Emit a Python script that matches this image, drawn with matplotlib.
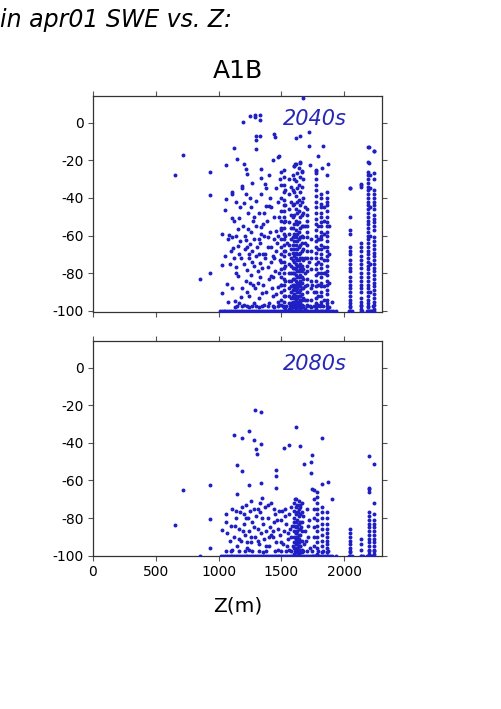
import matplotlib
matplotlib.use("Agg")
import matplotlib.pyplot as plt

plt.rcParams['font.family'] = ['DejaVu Sans']
plt.rcParams['axes.unicode_minus'] = False

# ---------------- data ----------------
title_text = "in apr01 SWE vs. Z:"
scenario = "A1B"
period_labels = ["2040s", "2080s"]
xticks = [0, 500, 1000, 1500, 2000]
yticks = [0, -20, -40, -60, -80, -100]

# 2040s scattered points
p1_sx = [651, 717, 850, 929, 929, 934, 1030, 1030, 1030, 1051, 1056, 1061, 1048, 1075, 1083, 1069,
         1104, 1109, 1109, 1109, 1114, 1125, 1127, 1141, 1141, 1149, 1154, 1154, 1154, 1159, 1180,
         1180, 1188, 1190, 1194, 1199, 1199, 1207, 1215, 1220, 1220, 1225, 1225, 1233, 1233, 1241,
         1247, 1247, 1254, 1268, 1273, 1286, 1291, 1294, 1294, 1299, 1294, 1305, 1318, 1326, 1331,
         1331, 1331, 1339, 1334, 1339, 1339, 1339, 1331, 1347, 1366, 1366, 1379, 1392, 1405, 1419,
         1432, 1445, 1453, 1432, 1458, 1472, 1480,
         1670, 1617, 1649, 1723, 1723, 1829, 1471, 1789, 2194, 2234, 2194, 1604, 1612, 1649, 1665,
         1728, 1776, 1824, 1868, 2046, 2133,
         1100, 1120, 1135, 1160, 1170, 1185, 1200, 1210, 1230, 1240, 1255, 1260, 1270, 1280, 1290,
         1300, 1310, 1320, 1330, 1345, 1350, 1360, 1370, 1380, 1390, 1400, 1410, 1420, 1430, 1440,
         1450, 1460, 1470, 1480, 1490, 1500, 1360, 1385, 1410, 1420, 1440, 1455, 1470, 1490, 1400,
         1375, 1260, 1280, 1250, 1300, 1320, 1170, 1140, 1120, 1090, 1075, 1110, 1130, 1160, 1200,
         1240, 1280, 1320, 1360, 1400, 1440, 1480,
         1215, 1230, 1265, 1285, 1310, 1350, 1395, 1425, 1445, 1465, 1485, 1195, 1245, 1275, 1325,
         1355, 1415, 1435, 1460, 1475, 1495, 1545, 1720, 1745, 1760, 1800, 1850, 1900]
p1_sy = [-28, -17, -83, -80, -38.6, -26.5, -90.6, -75.7, -58.9, -46.6, -40.4, -22.6, -70.7, -61.9, -59.6, -85.7,
         -38.1, -36.7, -50.8, -61, -66.8, -13.4, -94.9, -42.3, -76.9, -19.4, -56.6, -65.4, -81.3, -50.8, -72,
         -92.8, -33.7, -35, 0.2, -42.5, -22.2, -67.2, -38.1, -62.3, -24.5, -27.5, -78.3, -47.8, -56.6, -69.8,
         3.4, -85.3, -64.6, -31.9, -52.2, 4.2, 3, -6.9, -13.9, -9.5, -41.7, -66.3, -61.9, -82.2, 4.2,
         1.6, -7.2, -24.9, -29.3, -38.1, -55.4, -58.9, -74.4, -90.6, -32.4, -69.8, -44.3, -76.9, -44.3, -81.3,
         -70.6, -6.3, -7.6, -19.8, -57.5, -87.4, -17.6,
         13, -8.1, -7.2, -4.9, -12.5, -12.5, -18.3, -18, -13, -15.2, -21.3, -23.1, -22.2, -21.3, -25.7,
         -22.6, -25.7, -24.3, -22.2, -34.6, -32.8,
         -68, -72, -80, -70, -63, -88, -75, -60, -90, -72, -81, -58, -68, -76, -88,
         -71, -79, -93, -64, -77, -86, -60, -72, -90, -66, -83, -58, -74, -92, -62,
         -79, -68, -95, -50, -73, -86, -48, -52, -40, -45, -50, -35, -42, -30, -28,
         -35, -45, -50, -40, -55, -48, -45, -60, -52, -75, -95, -88, -98, -96, -97,
         -98, -96, -98, -97, -96, -98, -97,
         -84, -66, -74, -62, -85, -70, -61, -88, -72, -64, -80, -55, -92, -86, -70,
         -54, -66, -82, -91, -60, -56, -64, -74, -86, -90, -62, -80, -95]

# 2040s vertical columns of grid cells at the same elevation
p1_col_x = [1500, 1517, 1532, 1560, 1575, 1590, 1602, 1614, 1626, 1638, 1650, 1662, 1675, 1688,
            1707, 1735, 1776, 1790, 1816, 1840, 1866, 1880, 2046, 2133, 2192, 2206, 2234]
p1_col_y = [
    [-26, -33, -40, -47, -52, -57, -62, -66, -70, -74, -78, -82, -86, -90, -94, -97],
    [-25, -29, -33, -37, -41, -44, -47, -50, -53, -56, -59, -62, -65, -68, -71, -74, -77, -80, -83, -86, -89, -92, -95, -98],
    [-36, -44, -52, -60, -68, -76, -84, -92, -99],
    [-30, -38, -46, -53, -59, -65, -70, -75, -80, -84, -88, -92, -96, -99],
    [-34, -42, -49, -56, -62, -67, -72, -76, -80, -84, -87, -90, -93, -96, -99],
    [-28, -36, -44, -50, -56, -61, -65, -69, -73, -77, -80, -83, -86, -89, -92, -95, -98],
    [-23, -30, -37, -43, -49, -54, -59, -63, -67, -71, -74, -77, -80, -83, -86, -88, -91, -93, -96, -98],
    [-22, -31, -39, -46, -52, -57, -61, -65, -69, -72, -75, -78, -81, -84, -87, -89, -92, -94, -97, -99],
    [-27, -35, -42, -48, -54, -59, -63, -67, -70, -73, -76, -79, -82, -85, -88, -90, -93, -95, -98],
    [-24, -33, -41, -47, -53, -58, -62, -66, -70, -73, -76, -79, -82, -85, -87, -90, -92, -95, -97, -100],
    [-21, -29, -37, -44, -50, -56, -61, -65, -69, -72, -75, -78, -81, -84, -87, -89, -92, -94, -96, -99],
    [-26, -34, -42, -49, -55, -60, -64, -68, -72, -76, -79, -82, -85, -88, -91, -94, -97, -100],
    [-30, -40, -48, -55, -61, -67, -73, -78, -83, -88, -93, -98],
    [-45, -55, -64, -72, -80, -87, -94, -99],
    [-46, -49, -52, -55, -58, -61, -65, -68, -72, -76, -79, -83, -86, -90, -94, -97],
    [-62, -68, -72, -78, -84, -88, -94, -98],
    [-25, -27, -30, -33, -36, -39, -42, -45, -48, -51, -54, -57, -60, -63, -66, -69, -72, -75, -78, -81, -84, -87, -90, -93, -96, -99],
    [-55, -62, -67, -74, -80, -86, -92, -97],
    [-38, -40, -43, -45, -48, -50, -53, -55, -58, -60, -62, -65, -67, -70, -72, -75, -77, -80, -82, -85, -87, -90, -92, -95, -97, -100],
    [-45, -52, -59, -66, -73, -80, -87, -94],
    [-28, -37, -40, -42, -44, -47, -50, -53, -55, -58, -60, -63, -66, -68, -71, -73, -76, -79, -81, -84, -86, -89, -91, -94, -96, -99],
    [-55, -70, -85, -98],
    [-35, -50, -57, -59, -66, -68, -70, -73, -75, -77, -79, -82, -84, -86, -88, -90, -92, -94, -96, -98, -100],
    [-33, -34, -64, -66, -68, -71, -73, -75, -77, -80, -82, -84, -86, -88, -90, -93, -95, -97, -99],
    [-13, -21, -26, -28, -30, -32, -34, -36, -38, -40, -42, -44, -46, -48, -50, -52, -54, -56, -58, -60,
     -62, -64, -66, -68, -70, -72, -74, -76, -78, -80, -82, -84, -86, -88, -90, -92, -94, -96, -98, -100],
    [-28, -35, -45, -60, -75, -90, -100],
    [-15, -27, -30, -36, -38, -40, -42, -44, -46, -49, -51, -53, -55, -57, -61, -63, -65, -67, -69, -71,
     -73, -75, -77, -79, -81, -83, -85, -87, -89, -91, -93, -95, -97, -99],
]

# cells with complete loss (-100) in 2040s, by elevation
p1_floor_x = [1010, 1025, 1040, 1055, 1070, 1085, 1100, 1115, 1130, 1145, 1160, 1175, 1190, 1205,
              1220, 1235, 1250, 1265, 1280, 1295, 1310, 1325, 1340, 1355, 1370, 1385, 1400, 1415,
              1430, 1445, 1460, 1475, 1490, 1505, 1520, 1535, 1550, 1565, 1580, 1595, 1610, 1625,
              1640, 1655, 1670, 1685, 1700, 1715, 1730, 1745, 1760, 1775, 1790, 1805, 1820, 1835,
              1850, 1865, 1880, 1895, 1910, 1935, 2040, 2050, 2060, 2130, 2145, 2185, 2195, 2210,
              2225, 2240]
# cells just above complete loss (about -98) in 2040s
p1_nearfloor_x = [1150, 1185, 1225, 1270, 1300, 1345, 1390, 1430, 1470, 1510, 1540, 1570, 1585,
                  1600, 1615, 1630, 1645, 1660, 1675, 1700, 1725, 1760, 1785, 1810, 1830, 1860,
                  2045, 2135, 2190, 2230]
nearfloor_value = -97.5

# 2080s scattered points
p2_sx = [651, 717, 850, 929, 934, 929, 1030, 1056, 1061, 1122, 1146, 1149, 1188, 1188, 1241, 1241,
         1281, 1286, 1299, 1307, 1334, 1334, 1334, 1347, 1458, 1458, 1458, 1519, 1558, 1617, 1648,
         1680, 1738, 1738, 1743, 1743, 1823, 1823, 1870, 1900, 2194, 2234, 2194, 2234,
         1070, 1090, 1100, 1110, 1125, 1135, 1145, 1160, 1170, 1180, 1190, 1200, 1210, 1215, 1225,
         1235, 1245, 1250, 1260, 1270, 1280, 1290, 1300, 1310, 1320, 1330, 1340, 1350, 1360, 1370,
         1380, 1390, 1400, 1410, 1420, 1430, 1440, 1450, 1460, 1470, 1480, 1490, 1500, 1510, 1520,
         1530, 1540, 1550, 1560, 1570, 1580, 1590, 1600, 1610, 1620, 1630, 1640, 1650, 1660, 1670,
         1680, 1690, 1700, 1710, 1720, 1200, 1260, 1310, 1390, 1440, 1110, 1240, 1350, 1470, 1560,
         1605, 1625, 1645, 1665,
         1130, 1165, 1195, 1220, 1255, 1285, 1315, 1345, 1375, 1405, 1435, 1465, 1495, 1525, 1555,
         1585, 1695, 1715, 1730, 1140, 1230, 1330, 1420, 1505, 1545, 1575]
p2_sy = [-83.7, -65.3, -100, -62.4, -80.7, -96, -86.3, -77.8, -82, -36, -67.2, -52, -37.4, -54.7, -33.9, -62.5,
         -38.5, -22.5, -43.3, -46, -23.4, -40.4, -61.3, -69.3, -57.8, -54.4, -64, -42.7, -40.9, -31.4, -41.6,
         -51, -50.4, -56, -46.7, -64.8, -37.6, -61.9, -60.6, -70, -46.8, -51.2, -64.6, -71.8,
         -88, -92, -84, -75, -90, -80, -95, -86, -77, -92, -74, -83, -89, -73, -96,
         -80, -87, -76, -93, -82, -75, -90, -79, -86, -94, -77, -88, -83, -91, -74,
         -87, -80, -95, -85, -72, -90, -82, -78, -93, -86, -76, -89, -81, -94, -87,
         -75, -83, -91, -78, -86, -74, -95, -82, -70, -88, -77, -92, -73, -85, -79,
         -94, -87, -75, -90, -81, -78, -71, -75, -73, -75, -97, -97, -98, -97, -97,
         -96, -97, -95, -98,
         -84, -91, -87, -80, -90, -85, -92, -80, -95, -90, -87, -81, -93, -79, -88,
         -84, -92, -84, -96, -76, -93, -72, -89, -76, -95, -90]

p2_col_x = [1600, 1615, 1628, 1640, 1652, 1665, 1760, 1787, 1826, 1866, 2046, 2133, 2199, 2234]
p2_col_y = [
    [-72, -76, -80, -84, -87, -90, -93, -96, -99],
    [-70, -74, -78, -82, -85, -88, -91, -94, -97, -100],
    [-73, -77, -81, -84, -87, -90, -92, -94, -96, -98, -100],
    [-71, -75, -79, -83, -86, -89, -91, -93, -95, -97, -99],
    [-74, -78, -82, -86, -89, -92, -95, -98],
    [-72, -77, -82, -87, -92, -97],
    [-65, -70, -75, -80, -85, -90, -95, -100],
    [-66, -69, -72, -75, -78, -81, -84, -87, -90, -93, -96, -99],
    [-74, -77, -80, -83, -86, -89, -92, -95, -98],
    [-77, -80, -83, -86, -88, -90, -92, -94, -96, -98, -100],
    [-86, -88, -90, -92, -94, -96, -98, -100],
    [-91, -94, -97, -100],
    [-64, -66, -77, -79, -81, -83, -85, -87, -89, -91, -93, -95, -97, -99],
    [-78, -81, -83, -85, -87, -89, -91, -93, -95, -97, -99],
]

p2_floor_x = [1020, 1035, 1050, 1065, 1080, 1095, 1110, 1125, 1140, 1155, 1170, 1185, 1200, 1215,
              1230, 1245, 1260, 1275, 1290, 1305, 1320, 1335, 1350, 1365, 1380, 1395, 1410, 1425,
              1440, 1455, 1470, 1485, 1500, 1515, 1530, 1545, 1560, 1575, 1590, 1605, 1620, 1635,
              1650, 1665, 1680, 1695, 1710, 1725, 1740, 1755, 1770, 1785, 1800, 1815, 1830, 1845,
              1860, 1875, 1890, 1905, 1935, 2040, 2050, 2060, 2135, 2150, 2185, 2195, 2210, 2225,
              2240]
p2_nearfloor_x = [1060, 1100, 1160, 1210, 1270, 1320, 1380, 1450, 1500, 1540, 1580, 1610, 1630,
                  1650, 1670, 1700, 1740, 1790, 1830, 1870, 2045, 2200, 2235]
floor_value = -100

# ---------------- drawing ----------------
dot_color = '#1f1fc4'
label_color = '#2626b8'
frame_color = '#333333'
dot_size = 8

fig = plt.figure(figsize=(5.01, 7.09), dpi=100)
ax1 = fig.add_axes([0.1856, 0.5604, 0.5766, 0.3042])
ax2 = fig.add_axes([0.1856, 0.2153, 0.5766, 0.3033])

def flatten(cx, cy):
    xs, ys = [], []
    for x, col in zip(cx, cy):
        xs += [x] * len(col)
        ys += col
    return xs, ys

panels = [
    (ax1, p1_sx, p1_sy, p1_col_x, p1_col_y, p1_floor_x, p1_nearfloor_x, period_labels[0]),
    (ax2, p2_sx, p2_sy, p2_col_x, p2_col_y, p2_floor_x, p2_nearfloor_x, period_labels[1]),
]
for ax, sx, sy, cx, cy, fx, nfx, lab in panels:
    colx, coly = flatten(cx, cy)
    ax.scatter(sx, sy, s=dot_size, color=dot_color, linewidths=0, zorder=3)
    ax.scatter(colx, coly, s=dot_size, color=dot_color, linewidths=0, zorder=3)
    ax.scatter(nfx, [nearfloor_value] * len(nfx), s=dot_size, color=dot_color, linewidths=0, zorder=3)
    ax.scatter(fx, [floor_value] * len(fx), s=dot_size, color=dot_color, linewidths=0, zorder=3)
    ax.set_xlim(0, 2300)
    ax.set_ylim(-100.4, 14.1)
    ax.set_xticks(xticks)
    ax.set_yticks(yticks)
    ax.tick_params(direction='out', length=3.5, width=0.8, color='#555555',
                   top=True, right=True, labelsize=10, pad=3)
    for sp in ax.spines.values():
        sp.set_color(frame_color)
        sp.set_linewidth(0.9)
    ax.text(1770, 2, lab, color=label_color, fontsize=15, style='italic',
            ha='center', va='center')

ax1.tick_params(labelbottom=False)
ax1.set_title(scenario, fontsize=18, pad=13)
ax2.set_xlabel("Z(m)", fontsize=14.5, labelpad=12)

fig.text(0.0, 0.962, title_text, fontsize=17, style='italic', ha='left', va='baseline')

fig.savefig("out.png", dpi=100)
